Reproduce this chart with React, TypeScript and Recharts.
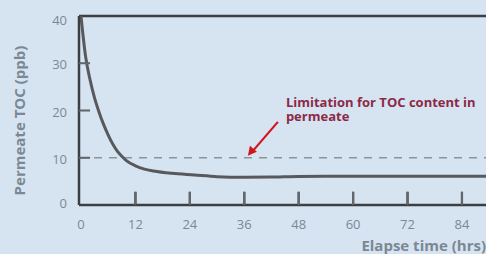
import { LineChart, Line, XAxis, YAxis, ReferenceLine, ReferenceDot, ReferenceArea } from "recharts";

// elapse time (hrs) and permeate TOC (ppb)
const hours = [0, 1, 2, 3, 4, 5, 6, 7, 8, 9, 10, 12, 14, 16, 20, 25, 30, 36, 42, 48, 60, 72, 84, 89.3];
const toc = [40, 31.5, 26.5, 22.6, 19.6, 17, 14.8, 12.9, 11.4, 10.3, 9.4, 8.3, 7.6, 7.2, 6.7, 6.35, 6.0, 5.86, 5.9, 6.05, 6.07, 6.07, 6.07, 6.07];

const xTicks = [0, 12, 24, 36, 48, 60, 72, 84];
const yTicks = [0, 10, 20, 30, 40];
const limitTOC = 10;
const noteLines = ["Limitation for TOC content in", "permeate"];
// where the arrow points (hrs, ppb)
const notePoint = { x: 36.8, y: 10.4 };

const data = hours.map((h, i) => ({ h, toc: toc[i] }));

const FONT = "'Open Sans', sans-serif";
const GREY = "#7b8894";
const AXIS = "#3d3e42";
const TICK = "#63676c";
const PLOT_LEFT = 79;
const PLOT_BOTTOM = 205;
const X_MARK = 2.8; // inward x tick mark height, in ppb
const X_HALF = 0.25; // half width of an x tick mark, in hrs
const Y_MARK = 2; // inward y tick mark length, in hrs
const Y_HALF = 0.12; // half width of a y tick mark, in ppb

function YTick({ y, payload }: any) {
  const v = payload.value;
  const nudge = v === 40 ? 3 : v === 0 ? -3 : 0;
  return (
    <g>
      <text x={PLOT_LEFT - 12} y={y + 1 + nudge} textAnchor="end" dominantBaseline="central" fontFamily={FONT} fontSize={13} fill={GREY}>
        {v}
      </text>
      {v > 0 && v < 40 && <line x1={PLOT_LEFT} x2={PLOT_LEFT + 11} y1={y} y2={y} stroke={TICK} strokeWidth={2} />}
    </g>
  );
}

function XTick({ x, payload }: any) {
  return (
    <text x={x} y={PLOT_BOTTOM + 24} textAnchor="middle" fontFamily={FONT} fontSize={13} fill={GREY}>
      {payload.value}
    </text>
  );
}

// inward tick mark standing on the x axis
function XMark({ cx, cy }: any) {
  return <rect x={cx - 1} y={cy - 13} width={2} height={13} fill={TICK} />;
}

function Note({ cx, cy }: any) {
  return (
    <g>
      <line x1={cx + 30} y1={cy - 34} x2={cx + 5} y2={cy - 5} stroke="#d0151d" strokeWidth={2.2} />
      <polygon points={`${cx},${cy} ${cx + 2},${cy - 10} ${cx + 9},${cy - 4}`} fill="#d0151d" />
      {noteLines.map((t, i) => (
        <text key={t} x={cx + 38} y={cy - 49 + i * 14.5} fontFamily={FONT} fontWeight={700} fontSize={13} fill="#8c2947">
          {t}
        </text>
      ))}
    </g>
  );
}

const innerX = xTicks.filter((t) => t > 0);
const innerY = yTicks.filter((t) => t > 0 && t < 40);

export default function App() {
  return (
    <div style={{ position: "absolute", left: 0, top: 0, width: 486, height: 254, background: "#d6e4f1", overflow: "hidden" }}>
      <LineChart width={486} height={254} data={data} margin={{ top: 16, right: 0, bottom: 0, left: 0 }}>
        <XAxis
          dataKey="h"
          type="number"
          domain={[-0.44, 89.3]}
          allowDataOverflow
          ticks={xTicks}
          interval={0}
          height={49}
          tickSize={0}
          tickMargin={12}
          tickLine={false}
          tick={<XTick />}
          axisLine={{ stroke: AXIS, strokeWidth: 2.5 }}
          label={() => (
            <text x={486} y={251} textAnchor="end" fontFamily={FONT} fontWeight={700} fontSize={15} fill={GREY}>
              Elapse time (hrs)
            </text>
          )}
        />
        <YAxis
          type="number"
          domain={[0, 40]}
          ticks={yTicks}
          interval={0}
          width={79}
          tickSize={0}
          tickMargin={12}
          tickLine={false}
          tick={<YTick />}
          axisLine={{ stroke: AXIS, strokeWidth: 2.5 }}
          label={({ viewBox }: any) => {
            const cx = 25;
            const cy = viewBox.y + viewBox.height / 2 + 10;
            return (
              <text x={cx} y={cy} transform={`rotate(-90 ${cx} ${cy})`} textAnchor="middle" fontFamily={FONT} fontWeight={700} fontSize={15} fill={GREY}>
                Permeate TOC (ppb)
              </text>
            );
          }}
        />
        {/* short inward tick marks: drawn as thin filled areas so they stay visible */}
        {innerX.map((t) => (
          <ReferenceArea
            key={"ax" + t}
            x1={t - X_HALF}
            x2={t + X_HALF}
            y1={0}
            y2={X_MARK}
            fill={TICK}
            fillOpacity={1}
            stroke="none"
            ifOverflow="visible"
          />
        ))}
        {innerY.map((t) => (
          <ReferenceArea
            key={"ay" + t}
            x1={-0.44}
            x2={Y_MARK}
            y1={t - Y_HALF}
            y2={t + Y_HALF}
            fill={TICK}
            fillOpacity={1}
            stroke="none"
            ifOverflow="visible"
          />
        ))}
        {innerX.map((t) => (
          <ReferenceLine
            key={"x" + t}
            segment={[
              { x: t, y: 0 },
              { x: t, y: X_MARK },
            ]}
            stroke={TICK}
            strokeWidth={2}
            ifOverflow="visible"
          />
        ))}
        {innerX.map((t) => (
          <ReferenceDot key={"m" + t} x={t} y={0} r={0} ifOverflow="visible" shape={<XMark />} />
        ))}
        <ReferenceLine y={40} stroke={AXIS} strokeWidth={2.5} />
        <ReferenceLine y={limitTOC} stroke="#8d9398" strokeWidth={1.5} strokeDasharray="8 7" />
        <Line type="monotone" dataKey="toc" stroke="#58595c" strokeWidth={3} dot={false} isAnimationActive={false} />
        <ReferenceDot x={notePoint.x} y={notePoint.y} r={0} shape={<Note />} />
      </LineChart>
    </div>
  );
}
